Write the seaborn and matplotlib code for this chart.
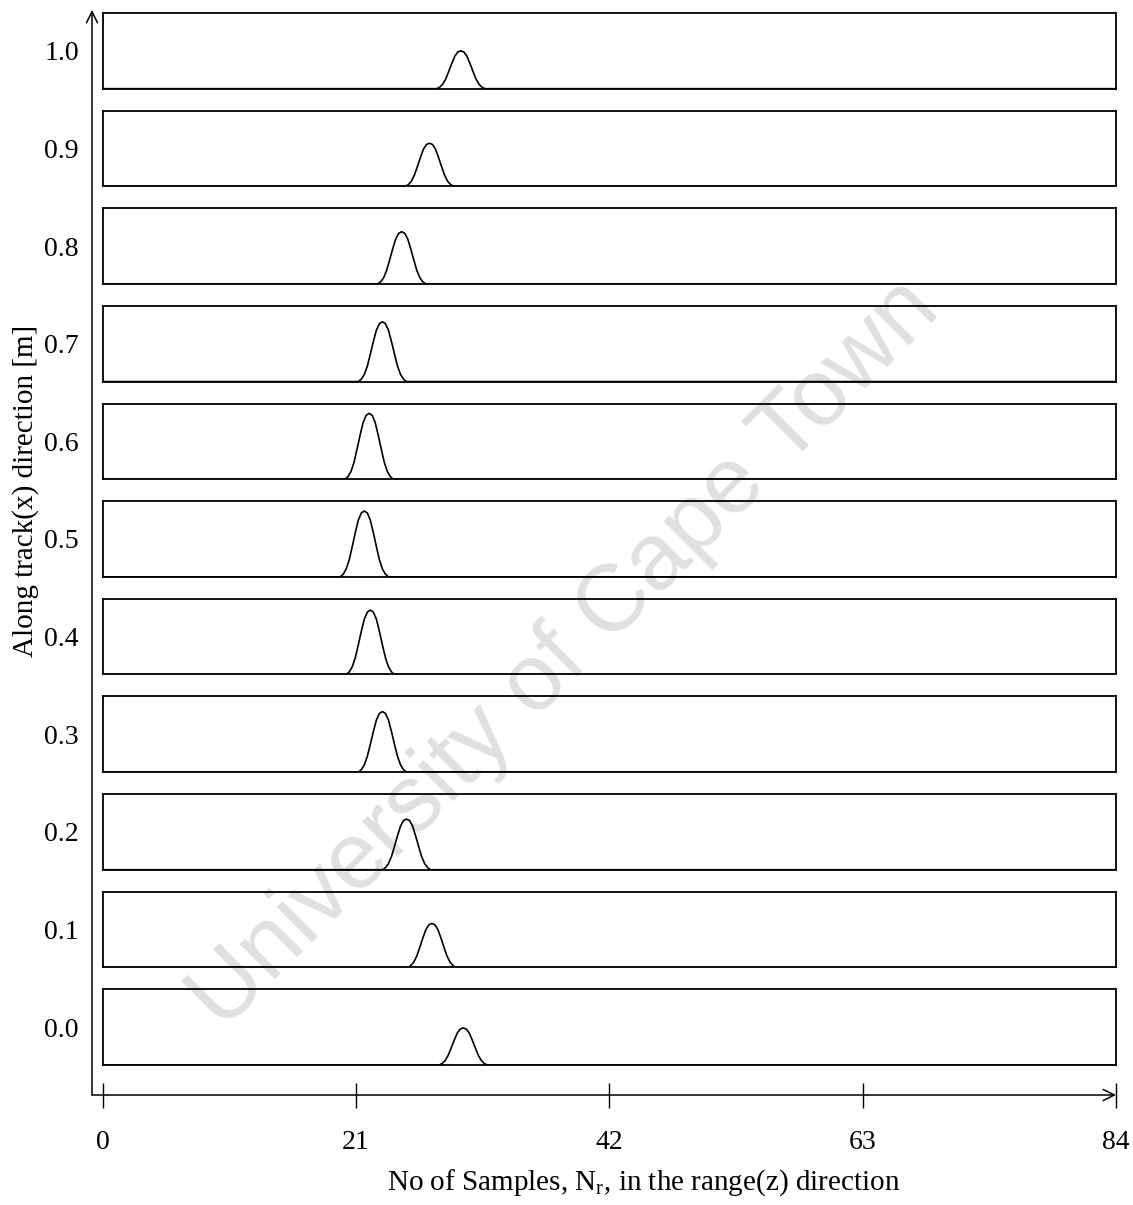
#!/usr/bin/env python3
"""Stacked range profiles along track: one pulse per along-track position."""

import matplotlib
matplotlib.use("Agg")
import matplotlib.pyplot as plt
import numpy as np
import pandas as pd
import seaborn as sns

# along-track positions, top panel first
track_labels = ["1.0", "0.9", "0.8", "0.7", "0.6", "0.5", "0.4", "0.3", "0.2", "0.1", "0.0"]
# pulse centre (sample number) and peak height (fraction of panel) per panel
peak_sample = [29.7, 27.1, 24.8, 23.2, 22.1, 21.7, 22.2, 23.2, 25.2, 27.3, 29.9]
peak_height = [0.50, 0.57, 0.69, 0.79, 0.87, 0.87, 0.85, 0.80, 0.67, 0.58, 0.49]
# pulse profile (offset in samples, normalised height)
pulse_offset = [-2.0, -1.75, -1.5, -1.25, -1.0, -0.75, -0.5, -0.25, 0.0,
                0.25, 0.5, 0.75, 1.0, 1.25, 1.5, 1.75, 2.0]
pulse_shape = [0.0, 0.04, 0.12, 0.26, 0.46, 0.67, 0.86, 0.97, 1.0,
               0.97, 0.86, 0.67, 0.46, 0.26, 0.12, 0.04, 0.0]
x_ticks = [0, 21, 42, 63, 84]
n_samples = 84

sns.set_theme(style="white")
plt.rcParams["font.family"] = ["Liberation Serif", "DejaVu Serif"]
plt.rcParams["mathtext.fontset"] = "custom"
plt.rcParams["mathtext.rm"] = "Liberation Serif"
plt.rcParams["mathtext.it"] = "Liberation Serif:italic"
plt.rcParams["text.color"] = "black"
plt.rcParams["xtick.color"] = "black"
plt.rcParams["ytick.color"] = "black"
plt.rcParams["xtick.labelcolor"] = "black"
plt.rcParams["ytick.labelcolor"] = "black"

W, H = 1133, 1205
fig = plt.figure(figsize=(W / 100, H / 100), dpi=100)
fig.patch.set_facecolor("white")

# panel geometry in pixels
px_left, px_right = 102.5, 1116
px_top, px_bottom = 13, 1065
fig_left, fig_right = px_left / W, px_right / W
fig_top, fig_bot = 1 - px_top / H, 1 - px_bottom / H

gs = fig.add_gridspec(len(track_labels), 1, left=fig_left, right=fig_right,
                      top=fig_top, bottom=fig_bot, hspace=0.29)

for i, lab in enumerate(track_labels):
    ax = fig.add_subplot(gs[i, 0])
    xs = [0.0] + [peak_sample[i] + o for o in pulse_offset] + [float(n_samples)]
    ys = [0.0] + [peak_height[i] * s for s in pulse_shape] + [0.0]
    df = pd.DataFrame({"sample": xs, "amp": ys})
    sns.lineplot(data=df, x="sample", y="amp", ax=ax, color="black",
                 linewidth=1.2, estimator=None, sort=False)
    ax.set_xlim(0, n_samples)
    ax.set_ylim(0, 1)
    ax.set_facecolor("none")
    ax.set_xticks([])
    ax.set_yticks([0.5])
    ax.set_yticklabels([lab], fontsize=20, color="black")
    ax.tick_params(axis="y", length=0, pad=17)
    ax.set_xlabel("")
    ax.set_ylabel("")
    for sp in ax.spines.values():
        sp.set_visible(True)
        sp.set_color("black")
        sp.set_linewidth(1.3)

# outer arrow axes
px_ax_left, px_ax_bottom, px_ax_top = 92, 1095, 10
ppx = (px_right - px_left) / n_samples
ax0 = fig.add_axes([px_ax_left / W, 1 - px_ax_bottom / H,
                    (px_right - px_ax_left) / W, (px_ax_bottom - px_ax_top) / H])
ax0.set_zorder(-1)
ax0.set_facecolor("none")
ax0.set_xlim(-(px_left - px_ax_left) / ppx, n_samples)
ax0.set_ylim(0, 1)
for sp in ax0.spines.values():
    sp.set_visible(False)
ax0.set_yticks([])
ax0.set_xticks(x_ticks)
ax0.set_xticklabels([str(t) for t in x_ticks], fontsize=20, color="black")
ax0.tick_params(axis="x", direction="inout", length=18, width=1.0,
                color="black", pad=16, bottom=True)
ax0.annotate("", xy=(0, 1), xytext=(0, 0), xycoords="axes fraction",
             arrowprops=dict(arrowstyle="->", lw=1.1, color="black",
                             shrinkA=0, shrinkB=0, mutation_scale=20))
ax0.annotate("", xy=(1, 0), xytext=(0, 0), xycoords="axes fraction",
             arrowprops=dict(arrowstyle="->", lw=1.1, color="black",
                             shrinkA=0, shrinkB=0, mutation_scale=20))

fig.text(644 / W, 1 - 1183 / H,
         r"No of Samples, N$_{\mathrm{r}}$, in the range(z) direction",
         ha="center", va="center", fontsize=21, color="black")
fig.text(26 / W, 1 - 491 / H, "Along track(x) direction [m]",
         ha="center", va="center", rotation=90, fontsize=21, color="black")

# watermark behind everything
fig.text(565 / W, 1 - 655 / H, "University of Cape Town", rotation=45,
         rotation_mode="anchor", ha="center", va="center", fontsize=68,
         color="#e0e0e0", family=["Liberation Sans", "DejaVu Sans"], zorder=-5)

fig.savefig("out.png", dpi=100, facecolor="white")
